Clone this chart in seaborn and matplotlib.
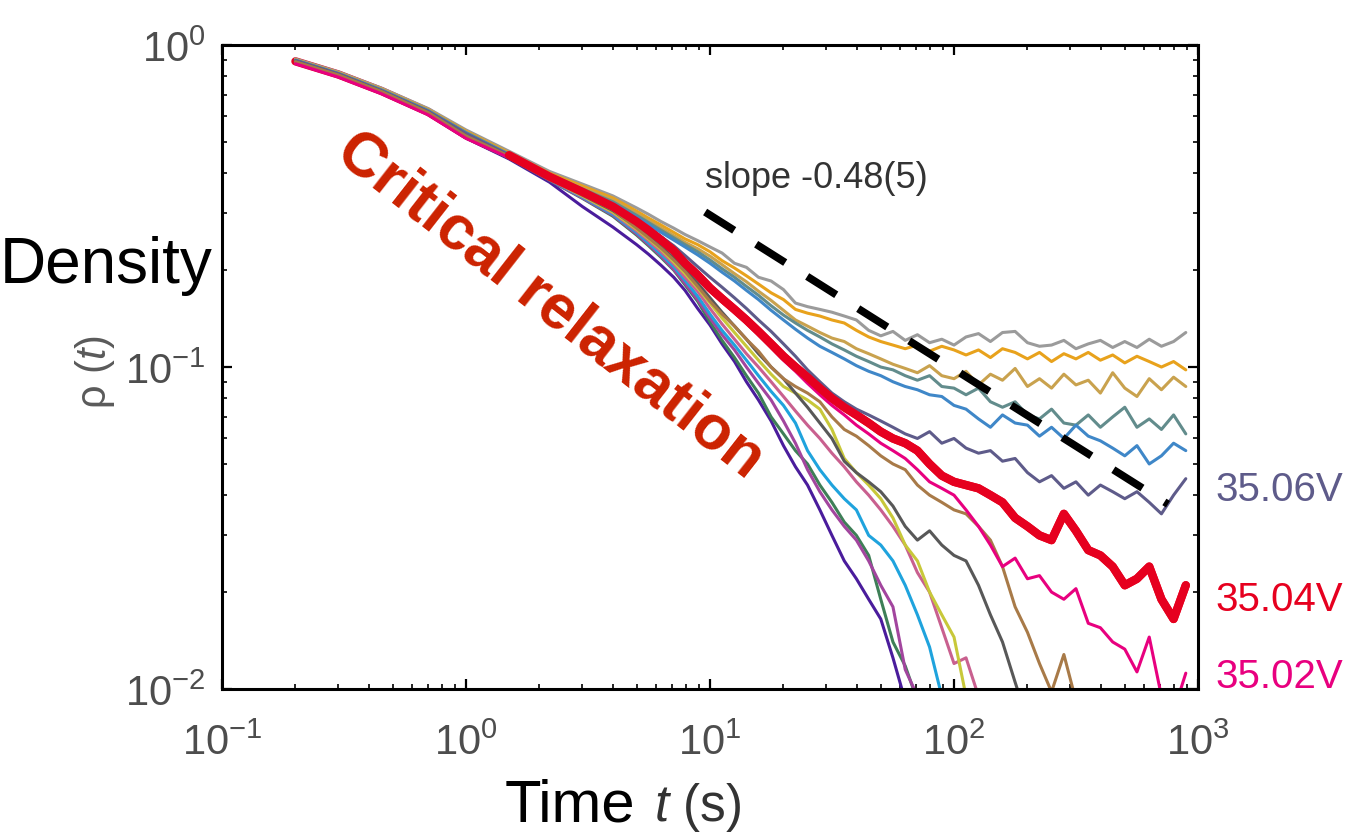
import matplotlib
matplotlib.use("Agg")
import matplotlib.pyplot as plt
import seaborn as sns
import pandas as pd

# time grid (s), shared by every run; shorter runs use the first len(values) points
t = [0.2, 0.3, 0.45, 0.7, 1.0, 1.5, 2.2, 3.0, 4.0,
     5.0, 5.6, 6.3, 7.1, 7.9, 8.9, 10, 11.2, 12.6, 14.1,
     15.8, 17.8, 20, 22.4, 25.1, 28.2, 31.6, 35.5, 39.8, 44.7,
     50.1, 56.2, 63.1, 70.8, 79.4, 89.1, 100, 112, 126, 141,
     158, 178, 200, 224, 251, 282, 316, 355, 398, 447,
     501, 562, 631, 708, 794, 891]

gray = [0.905, 0.825, 0.735, 0.635, 0.545, 0.468, 0.405, 0.37, 0.34,
        0.312, 0.298, 0.283, 0.27, 0.258, 0.247, 0.236, 0.226, 0.21, 0.204,
        0.19, 0.185, 0.174, 0.158, 0.154, 0.151, 0.148, 0.144, 0.14, 0.13,
        0.125, 0.129, 0.121, 0.126, 0.119, 0.122, 0.117, 0.124, 0.127, 0.12,
        0.128, 0.129, 0.119, 0.116, 0.117, 0.121, 0.114, 0.118, 0.121, 0.115,
        0.12, 0.115, 0.122, 0.116, 0.12, 0.128]
orange = [0.9, 0.82, 0.73, 0.63, 0.54, 0.463, 0.4, 0.365, 0.335,
          0.305, 0.29, 0.276, 0.262, 0.25, 0.24, 0.228, 0.214, 0.203, 0.192,
          0.181, 0.17, 0.162, 0.151, 0.147, 0.144, 0.14, 0.137, 0.13, 0.124,
          0.12, 0.117, 0.114, 0.117, 0.112, 0.116, 0.113, 0.109, 0.113, 0.107,
          0.114, 0.111, 0.106, 0.111, 0.104, 0.11, 0.106, 0.111, 0.105, 0.109,
          0.103, 0.108, 0.104, 0.1, 0.104, 0.098]
khaki = [0.9, 0.818, 0.728, 0.628, 0.537, 0.46, 0.398, 0.36, 0.33,
         0.3, 0.285, 0.27, 0.256, 0.244, 0.233, 0.221, 0.208, 0.195, 0.184,
         0.172, 0.161, 0.15, 0.14, 0.134, 0.128, 0.123, 0.12, 0.114, 0.11,
         0.106, 0.102, 0.099, 0.096, 0.101, 0.094, 0.092, 0.097, 0.088, 0.095,
         0.091, 0.099, 0.087, 0.092, 0.086, 0.095, 0.088, 0.091, 0.083, 0.096,
         0.086, 0.081, 0.092, 0.085, 0.093, 0.087]
teal = [0.898, 0.816, 0.726, 0.626, 0.535, 0.458, 0.396, 0.357, 0.326,
        0.296, 0.281, 0.266, 0.252, 0.24, 0.228, 0.215, 0.202, 0.19, 0.178,
        0.167, 0.155, 0.145, 0.137, 0.13, 0.124, 0.118, 0.113, 0.108, 0.104,
        0.1, 0.098, 0.094, 0.091, 0.094, 0.087, 0.086, 0.082, 0.086, 0.078,
        0.075, 0.078, 0.071, 0.069, 0.074, 0.067, 0.066, 0.071, 0.065, 0.07,
        0.075, 0.065, 0.069, 0.064, 0.071, 0.062]
blue = [0.896, 0.815, 0.724, 0.624, 0.533, 0.456, 0.393, 0.354, 0.322,
        0.292, 0.277, 0.262, 0.248, 0.236, 0.223, 0.21, 0.197, 0.185, 0.173,
        0.162, 0.15, 0.14, 0.131, 0.123, 0.116, 0.111, 0.106, 0.101, 0.097,
        0.094, 0.09, 0.087, 0.085, 0.082, 0.081, 0.076, 0.074, 0.069, 0.065,
        0.071, 0.067, 0.066, 0.061, 0.065, 0.06, 0.066, 0.061, 0.059, 0.056,
        0.053, 0.057, 0.05, 0.053, 0.058, 0.055]
v3506 = [0.895, 0.814, 0.722, 0.622, 0.531, 0.455, 0.392, 0.352, 0.318,
         0.286, 0.27, 0.254, 0.238, 0.222, 0.205, 0.19, 0.177, 0.164, 0.152,
         0.14, 0.129, 0.118, 0.108, 0.098, 0.09, 0.083, 0.078, 0.074, 0.071,
         0.068, 0.065, 0.062, 0.06, 0.063, 0.058, 0.06, 0.056, 0.054, 0.055,
         0.051, 0.052, 0.047, 0.044, 0.046, 0.042, 0.044, 0.04, 0.043, 0.041,
         0.039, 0.041, 0.038, 0.035, 0.04, 0.045]
v3504 = [0.89, 0.81, 0.72, 0.62, 0.525, 0.455, 0.39, 0.35, 0.315,
         0.283, 0.266, 0.248, 0.23, 0.21, 0.193, 0.176, 0.163, 0.151, 0.14,
         0.129, 0.118, 0.108, 0.1, 0.093, 0.086, 0.08, 0.075, 0.071, 0.067,
         0.063, 0.06, 0.058, 0.055, 0.05, 0.046, 0.044, 0.043, 0.042, 0.04,
         0.038, 0.034, 0.032, 0.03, 0.029, 0.035, 0.031, 0.027, 0.026, 0.024,
         0.021, 0.022, 0.024, 0.019, 0.0165, 0.021]
v3502 = [0.875, 0.795, 0.706, 0.607, 0.513, 0.447, 0.386, 0.347, 0.312,
         0.28, 0.263, 0.246, 0.228, 0.21, 0.19, 0.173, 0.16, 0.148, 0.137,
         0.126, 0.115, 0.105, 0.097, 0.089, 0.082, 0.076, 0.071, 0.066, 0.062,
         0.058, 0.055, 0.052, 0.048, 0.044, 0.042, 0.04, 0.036, 0.032, 0.028,
         0.024, 0.0255, 0.022, 0.0225, 0.02, 0.019, 0.0205, 0.016, 0.0155, 0.014,
         0.0133, 0.0113, 0.0145, 0.0095, 0.0085, 0.0112]
brown = [0.887, 0.807, 0.717, 0.617, 0.522, 0.452, 0.386, 0.343, 0.308,
         0.27, 0.252, 0.234, 0.215, 0.198, 0.178, 0.16, 0.146, 0.134, 0.122,
         0.112, 0.1, 0.092, 0.087, 0.083, 0.078, 0.07, 0.064, 0.061, 0.057,
         0.053, 0.05, 0.048, 0.043, 0.04, 0.038, 0.036, 0.035, 0.032, 0.029,
         0.024, 0.018, 0.015, 0.012, 0.0098, 0.0128, 0.0092]
darkgray = [0.886, 0.806, 0.716, 0.616, 0.521, 0.451, 0.385, 0.342, 0.306,
            0.272, 0.254, 0.236, 0.218, 0.2, 0.182, 0.164, 0.148, 0.134, 0.122,
            0.11, 0.1, 0.092, 0.083, 0.075, 0.067, 0.06, 0.051, 0.047, 0.044,
            0.041, 0.037, 0.032, 0.029, 0.031, 0.028, 0.026, 0.025, 0.021, 0.017,
            0.014, 0.0105, 0.008]
yellow = [0.885, 0.805, 0.715, 0.615, 0.52, 0.45, 0.384, 0.34, 0.303,
          0.268, 0.25, 0.232, 0.212, 0.195, 0.176, 0.158, 0.142, 0.128, 0.116,
          0.105, 0.095, 0.087, 0.083, 0.079, 0.074, 0.064, 0.052, 0.047, 0.043,
          0.039, 0.034, 0.028, 0.025, 0.02, 0.017, 0.0145, 0.0095]
mauve = [0.884, 0.804, 0.714, 0.614, 0.519, 0.449, 0.383, 0.339, 0.301,
         0.265, 0.247, 0.228, 0.209, 0.19, 0.172, 0.152, 0.136, 0.122, 0.11,
         0.1, 0.09, 0.081, 0.073, 0.066, 0.06, 0.054, 0.049, 0.044, 0.04,
         0.036, 0.032, 0.028, 0.023, 0.02, 0.0155, 0.012, 0.0125, 0.0095]
cyan = [0.883, 0.803, 0.713, 0.613, 0.518, 0.448, 0.382, 0.337, 0.298,
        0.262, 0.243, 0.224, 0.205, 0.186, 0.166, 0.146, 0.13, 0.117, 0.105,
        0.094, 0.084, 0.076, 0.067, 0.055, 0.048, 0.043, 0.039, 0.036, 0.03,
        0.028, 0.025, 0.021, 0.017, 0.0135, 0.0095]
plum = [0.882, 0.802, 0.712, 0.612, 0.517, 0.447, 0.381, 0.335, 0.296,
        0.259, 0.24, 0.221, 0.201, 0.182, 0.162, 0.142, 0.126, 0.113, 0.1,
        0.089, 0.079, 0.068, 0.058, 0.048, 0.041, 0.036, 0.032, 0.029, 0.025,
        0.021, 0.018, 0.0115, 0.0095]
green = [0.881, 0.801, 0.711, 0.611, 0.516, 0.446, 0.38, 0.334, 0.294,
         0.257, 0.238, 0.219, 0.2, 0.18, 0.16, 0.138, 0.121, 0.107, 0.094,
         0.083, 0.07, 0.062, 0.055, 0.05, 0.043, 0.038, 0.033, 0.03, 0.026,
         0.019, 0.014, 0.0118, 0.0092]
indigo = [0.878, 0.798, 0.708, 0.609, 0.514, 0.443, 0.375, 0.315, 0.272,
          0.24, 0.224, 0.207, 0.19, 0.173, 0.152, 0.135, 0.118, 0.104, 0.09,
          0.079, 0.068, 0.057, 0.049, 0.043, 0.036, 0.03, 0.025, 0.022, 0.019,
          0.0165, 0.0125, 0.0092]

# thin runs in drawing order
runs = [
    ("gray", gray, "#9b9b9b"),
    ("orange", orange, "#e8a21c"),
    ("khaki", khaki, "#c9a24e"),
    ("teal", teal, "#628c8c"),
    ("blue", blue, "#3f87c8"),
    ("35.06V", v3506, "#5e5b8a"),
    ("indigo", indigo, "#4a1c9c"),
    ("green", green, "#3e7f57"),
    ("plum", plum, "#a2459e"),
    ("cyan", cyan, "#1fa3dd"),
    ("mauve", mauve, "#c9608f"),
    ("yellow", yellow, "#c8c83a"),
    ("darkgray", darkgray, "#585858"),
    ("brown", brown, "#a87a48"),
    ("35.02V", v3502, "#e8007f"),
]
red_color = "#e6001f"

# guide line with slope -0.48
slope_t = [9.55, 753]
slope_rho = [0.303, 0.0375]

xticks = [0.1, 1, 10, 100, 1000]
xtick_labels = [r"$10^{-1}$", r"$10^{0}$", r"$10^{1}$", r"$10^{2}$", r"$10^{3}$"]
yticks = [0.01, 0.1, 1]
ytick_labels = [r"$10^{-2}$", r"$10^{-1}$", r"$10^{0}$"]

sns.set_theme(style="ticks")
plt.rcParams["font.family"] = ["Liberation Sans", "DejaVu Sans"]
plt.rcParams["mathtext.fontset"] = "custom"
plt.rcParams["mathtext.rm"] = "Liberation Sans"
plt.rcParams["mathtext.it"] = "Liberation Sans:italic"
plt.rcParams["mathtext.bf"] = "Liberation Sans:bold"

fig = plt.figure(figsize=(13.56, 8.37), dpi=100)
ax = fig.add_axes([0.1637, 0.1756, 0.7198, 0.7694])

red_df = pd.DataFrame({"t": t[:len(v3504)], "rho": v3504})
# the 35.04V run sits inside the bundle at early times and on top later on
sns.lineplot(data=red_df, x="t", y="rho", color=red_color, lw=6, ax=ax,
             estimator=None, sort=False, legend=False)
for name, vals, col in runs:
    df = pd.DataFrame({"t": t[:len(vals)], "rho": vals})
    sns.lineplot(data=df, x="t", y="rho", color=col, lw=2.2, ax=ax,
                 estimator=None, sort=False, legend=False)
sns.lineplot(data=red_df[red_df["t"] >= 1.5], x="t", y="rho", color=red_color,
             lw=6, ax=ax, estimator=None, sort=False, legend=False,
             solid_capstyle="round")

ax.plot(slope_t, slope_rho, color="black", lw=5.5, linestyle=(0, (4.5, 3.4)),
        dash_capstyle="butt")

ax.set_xscale("log")
ax.set_yscale("log")
ax.set_xlim(0.1, 1000)
ax.set_ylim(0.01, 1)
ax.set_xticks(xticks, xtick_labels)
ax.set_yticks(yticks, ytick_labels)
ax.set_xlabel("")
ax.set_ylabel("")
for s in ax.spines.values():
    s.set_linewidth(2.2)
    s.set_color("black")
ax.tick_params(which="both", direction="in", top=True, right=True,
               labelcolor="#4d4d4d", labelsize=30, color="black")
ax.tick_params(which="major", length=7, width=1.6, pad=12)
ax.tick_params(axis="x", which="major", pad=24)
ax.tick_params(which="minor", length=3.5, width=1.2)

ax.text(2.21, 0.157, "Critical relaxation", color="#cc2200", fontsize=45,
        fontweight="bold", rotation=-38, ha="center", va="center",
        rotation_mode="anchor")

fig.text(0.52, 0.787, "slope -0.48(5)", fontsize=26, color="#333333",
         ha="left", va="center")
fig.text(0.896, 0.4146, "35.06V", fontsize=29, color="#5e5b8a", ha="left", va="center")
fig.text(0.896, 0.283, "35.04V", fontsize=29, color=red_color, ha="left", va="center")
fig.text(0.896, 0.191, "35.02V", fontsize=29, color="#e8007f", ha="left", va="center")

fig.text(0.0, 0.662, "Density", fontsize=46, color="black", ha="left", va="baseline")
fig.text(0.07, 0.556, r"ρ ($t$)", fontsize=30, color="#5a5a5a", rotation=90,
         ha="center", va="center")
fig.text(0.372, 0.019, "Time", fontsize=43, color="black", ha="left", va="baseline")
fig.text(0.482, 0.019, r"$t$ (s)", fontsize=37, color="#333333", ha="left", va="baseline")

fig.savefig("out.png", dpi=100, facecolor="white")
